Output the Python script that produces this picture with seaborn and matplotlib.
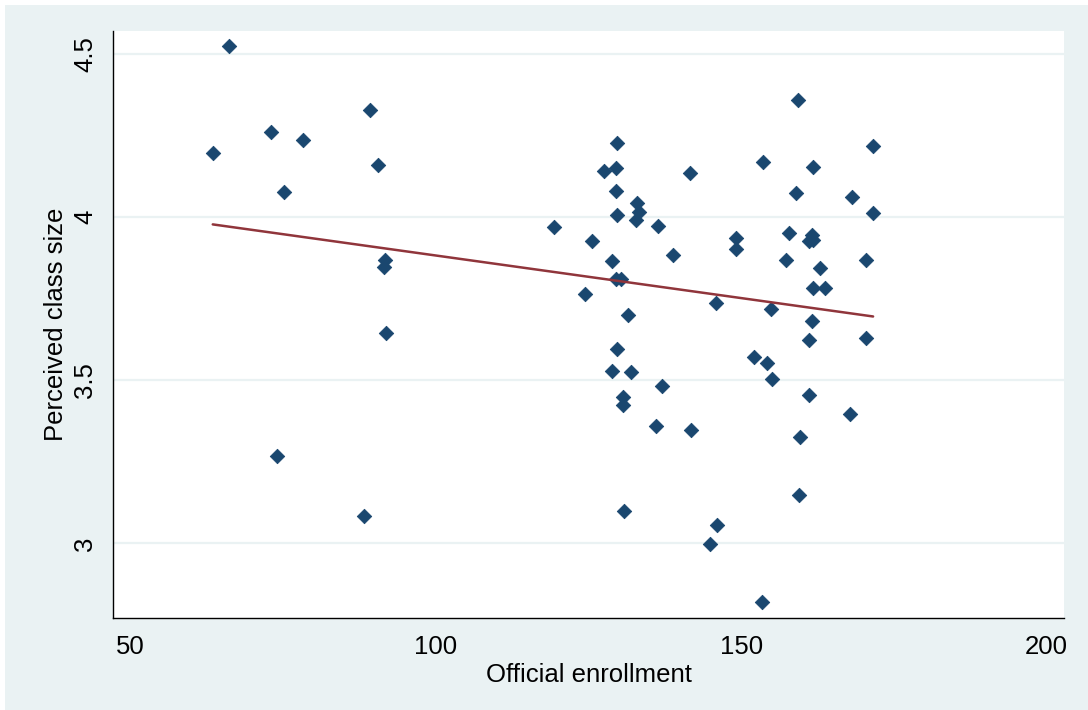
import matplotlib
matplotlib.use("Agg")
import matplotlib.pyplot as plt
from matplotlib.patches import Rectangle
import seaborn as sns
import numpy as np
import pandas as pd

# Data
enrollment = [
    63.5, 66.2, 73.0, 74.0, 75.1, 78.2, 88.3, 89.3, 90.6, 91.5, 91.7, 91.8,
    119.3, 124.5, 125.6, 127.6, 128.8, 128.8, 129.5, 129.5, 129.5, 129.7, 129.7, 129.7,
    130.4, 130.7, 130.7, 130.9, 131.4, 131.9, 132.8, 132.9, 133.3, 136.1, 136.4, 137.0,
    138.9, 141.6, 141.8, 144.9, 145.9, 146.0, 149.1, 149.2, 152.1, 153.4, 153.6, 154.3,
    154.9, 155.1, 157.3, 157.8, 158.9, 159.3, 159.5, 159.7, 161.1, 161.1, 161.1, 161.6,
    161.8, 161.6, 161.8, 161.8, 162.9, 163.7, 167.8, 168.2, 170.4, 170.4, 171.6, 171.6,
]
perceived = [
    4.198, 4.525, 4.261, 3.268, 4.077, 4.237, 3.085, 4.328, 4.160, 3.848, 3.870, 3.646,
    3.971, 3.766, 3.926, 4.142, 3.866, 3.529, 4.150, 4.081, 3.812, 4.227, 4.008, 3.595,
    3.810, 3.448, 3.424, 3.099, 3.701, 3.525, 3.992, 4.045, 4.015, 3.361, 3.973, 3.483,
    3.885, 4.137, 3.348, 2.999, 3.738, 3.055, 3.936, 3.902, 3.571, 2.819, 4.170, 3.554,
    3.720, 3.503, 3.869, 3.952, 4.074, 4.360, 3.147, 3.327, 3.927, 3.625, 3.456, 3.947,
    3.930, 3.681, 4.153, 3.783, 3.845, 3.783, 3.397, 4.063, 3.869, 3.629, 4.217, 4.014,
]
x_ticks = [50, 100, 150, 200]
y_ticks = [3, 3.5, 4, 4.5]
y_ticklabels = ["3", "3.5", "4", "4.5"]

df = pd.DataFrame({"Official enrollment": enrollment, "Perceived class size": perceived})

BG = "#EAF2F3"
NAVY = "#1A476F"
MAROON = "#90353B"

sns.set_theme(style="white")
plt.rcParams["font.family"] = ["Liberation Sans", "DejaVu Sans"]

fig = plt.figure(figsize=(10.88, 7.10), dpi=100)
fig.patch.set_facecolor("white")
fig.patches.append(Rectangle((5 / 1088, 0), 1 - 5 / 1088, 1 - 5 / 710,
                             transform=fig.transFigure, facecolor=BG,
                             edgecolor="none", zorder=-10))

ax = fig.add_axes([113.3 / 1088, 1 - 617.7 / 710, (1064.3 - 113.3) / 1088, (617.7 - 30.7) / 710])
ax.set_facecolor("white")

for yt in y_ticks:
    ax.axhline(yt, color=BG, lw=1.6, zorder=0)

sns.scatterplot(data=df, x="Official enrollment", y="Perceived class size", ax=ax,
                marker="D", s=54, color=NAVY, edgecolor=NAVY, linewidth=0.6, zorder=3)
sns.regplot(data=df, x="Official enrollment", y="Perceived class size", ax=ax,
            scatter=False, ci=None, color=MAROON, line_kws={"lw": 1.8, "zorder": 4})

ax.set_xlim(47.22, 202.9)
ax.set_ylim(2.772, 4.572)
ax.set_xticks(x_ticks)
ax.set_yticks(y_ticks)
ax.set_yticklabels(y_ticklabels)

for s in ["top", "right"]:
    ax.spines[s].set_visible(False)
for s in ["left", "bottom"]:
    ax.spines[s].set_color("black")
    ax.spines[s].set_linewidth(1.0)

ax.tick_params(axis="both", which="major", direction="out", length=7.5, width=0.8,
               color="black", labelsize=18.5, labelcolor="black")
ax.tick_params(axis="x", pad=5)
ax.tick_params(axis="y", pad=4, labelrotation=90)
for lab in ax.get_yticklabels():
    lab.set_verticalalignment("center")

ax.set_xlabel("Official enrollment", fontsize=18.5, color="black", labelpad=3)
ax.set_ylabel("Perceived class size", fontsize=18.5, color="black", labelpad=4)

fig.savefig("out.png", dpi=100, facecolor=fig.get_facecolor())
